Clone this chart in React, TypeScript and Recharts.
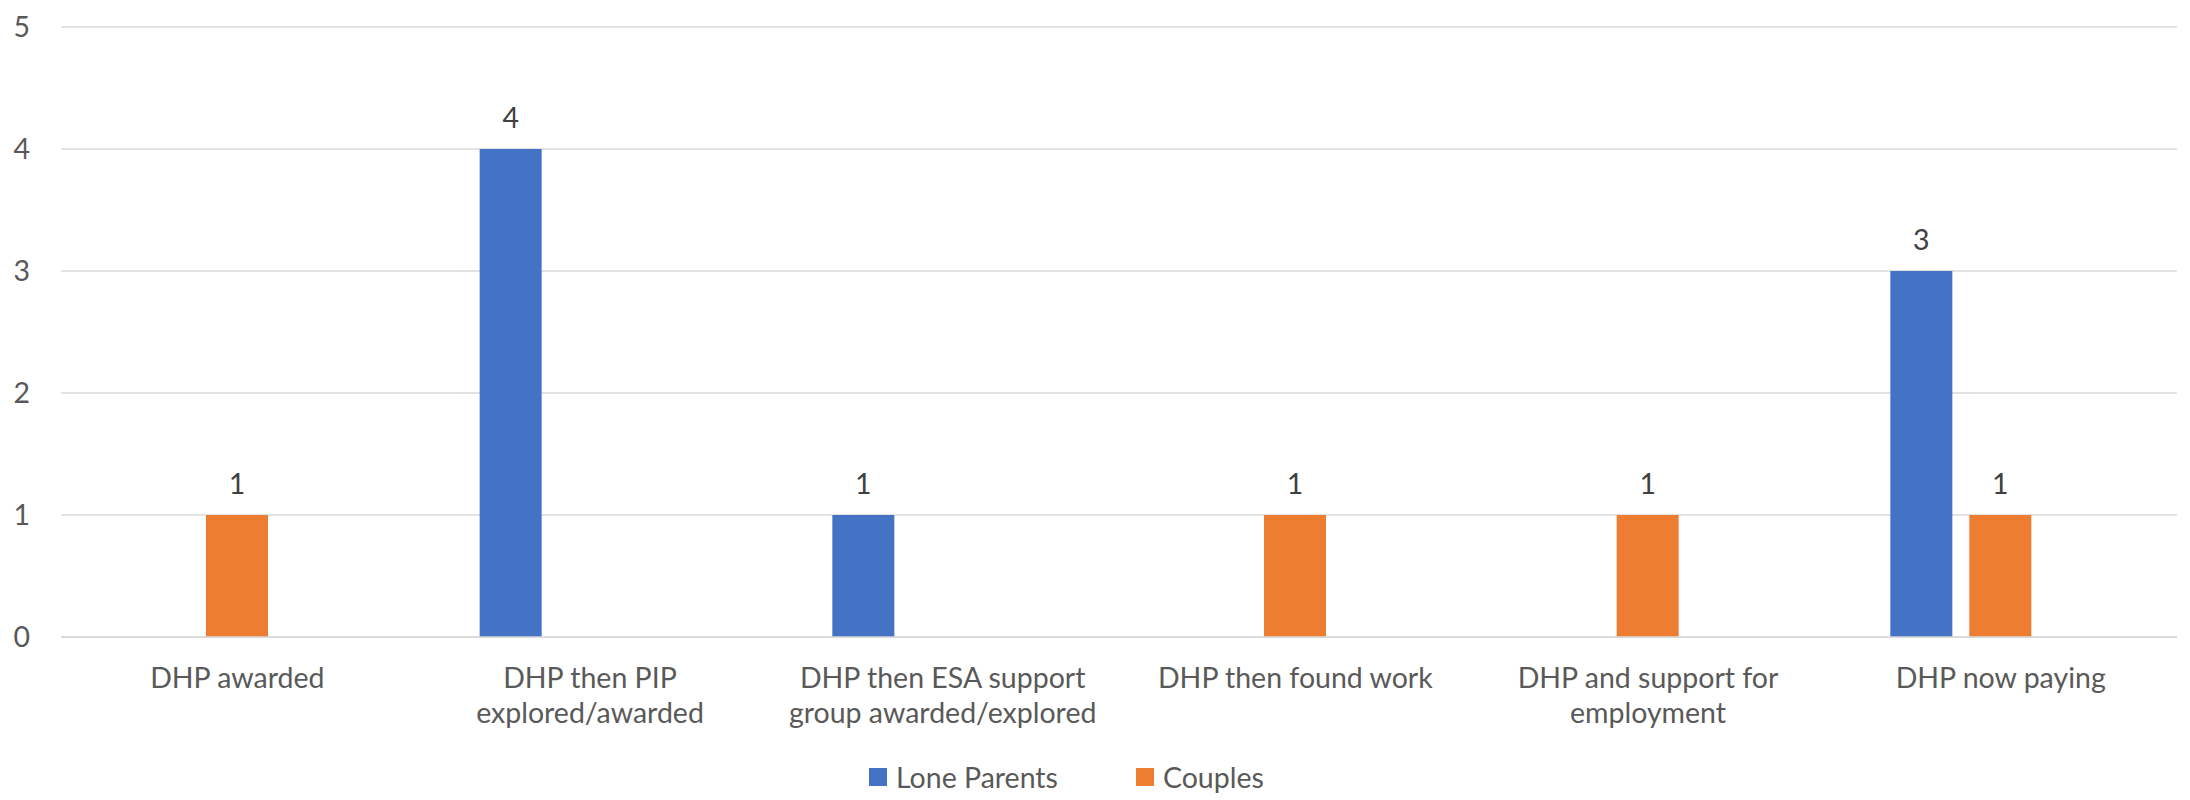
import React from 'react';
import { BarChart, Bar, XAxis, YAxis, CartesianGrid, Legend, LabelList } from 'recharts';

const categories = [
  'DHP awarded',
  'DHP then PIP\nexplored/awarded',
  'DHP then ESA support\ngroup awarded/explored',
  'DHP then found work',
  'DHP and support for\nemployment',
  'DHP now paying',
];
const loneParents = [null, 4, 1, null, null, 3];
const couples = [1, null, null, 1, 1, 1];
// empty third slot in each cluster (series with no data, not in legend)
const blankSeries = [null, null, null, null, null, null];
const yTicks = [0, 1, 2, 3, 4, 5];

const data = categories.map((name, i) => ({
  name,
  lone: loneParents[i],
  couples: couples[i],
  blank: blankSeries[i],
}));

const FONT = 'Lato, "Open Sans", sans-serif';
const AXIS_TEXT = '#595959';

const CategoryTick = (props: any) => {
  const { x, y, payload } = props;
  const lines = String(payload.value).split('\n');
  return (
    <g transform={`translate(${x},${y})`}>
      <text textAnchor="middle" fill={AXIS_TEXT} fontSize={28.5} fontFamily={FONT}>
        {lines.map((line, i) => (
          <tspan key={i} x={0} dy={i === 0 ? 51 : 35}>
            {line}
          </tspan>
        ))}
      </text>
    </g>
  );
};

const LegendBox = () => (
  <div style={{ height: 40, display: 'flex', alignItems: 'center', paddingLeft: 869, fontFamily: FONT, fontSize: 28.5, color: AXIS_TEXT }}>
    <span style={{ width: 18, height: 18, background: '#4472C4', marginRight: 9 }} />
    <span style={{ marginRight: 78 }}>Lone Parents</span>
    <span style={{ width: 18, height: 18, background: '#ED7D31', marginRight: 9 }} />
    <span>Couples</span>
  </div>
);

const App = () => {
  return (
    <div style={{ position: 'absolute', left: 0, top: 0, background: '#fff' }}>
      <BarChart
        width={2190}
        height={800}
        data={data}
        margin={{ top: 27, right: 13, bottom: 3, left: 0 }}
        barSize={62}
        barGap={17}
      >
        <CartesianGrid vertical={false} stroke="#d9d9d9" strokeWidth={1.5} />
        <XAxis
          dataKey="name"
          height={120}
          tick={<CategoryTick />}
          tickLine={false}
          tickSize={0}
          tickMargin={0}
          interval={0}
          axisLine={{ stroke: '#d9d9d9', strokeWidth: 1.5 }}
        />
        <YAxis
          width={61}
          domain={[0, 5]}
          ticks={yTicks}
          axisLine={false}
          tickLine={false}
          tickSize={0}
          tickMargin={31}
          tick={{ fill: AXIS_TEXT, fontSize: 28.5, fontFamily: FONT }}
        />
        <Legend verticalAlign="bottom" content={() => <LegendBox />} />
        <Bar dataKey="lone" name="Lone Parents" fill="#4472C4" isAnimationActive={false}>
          <LabelList dataKey="lone" position="top" offset={21} fill="#404040" fontSize={28.5} fontFamily={FONT} />
        </Bar>
        <Bar dataKey="couples" name="Couples" fill="#ED7D31" isAnimationActive={false}>
          <LabelList dataKey="couples" position="top" offset={21} fill="#404040" fontSize={28.5} fontFamily={FONT} />
        </Bar>
        <Bar dataKey="blank" legendType="none" fill="#A5A5A5" isAnimationActive={false} />
      </BarChart>
    </div>
  );
};

export default App;
